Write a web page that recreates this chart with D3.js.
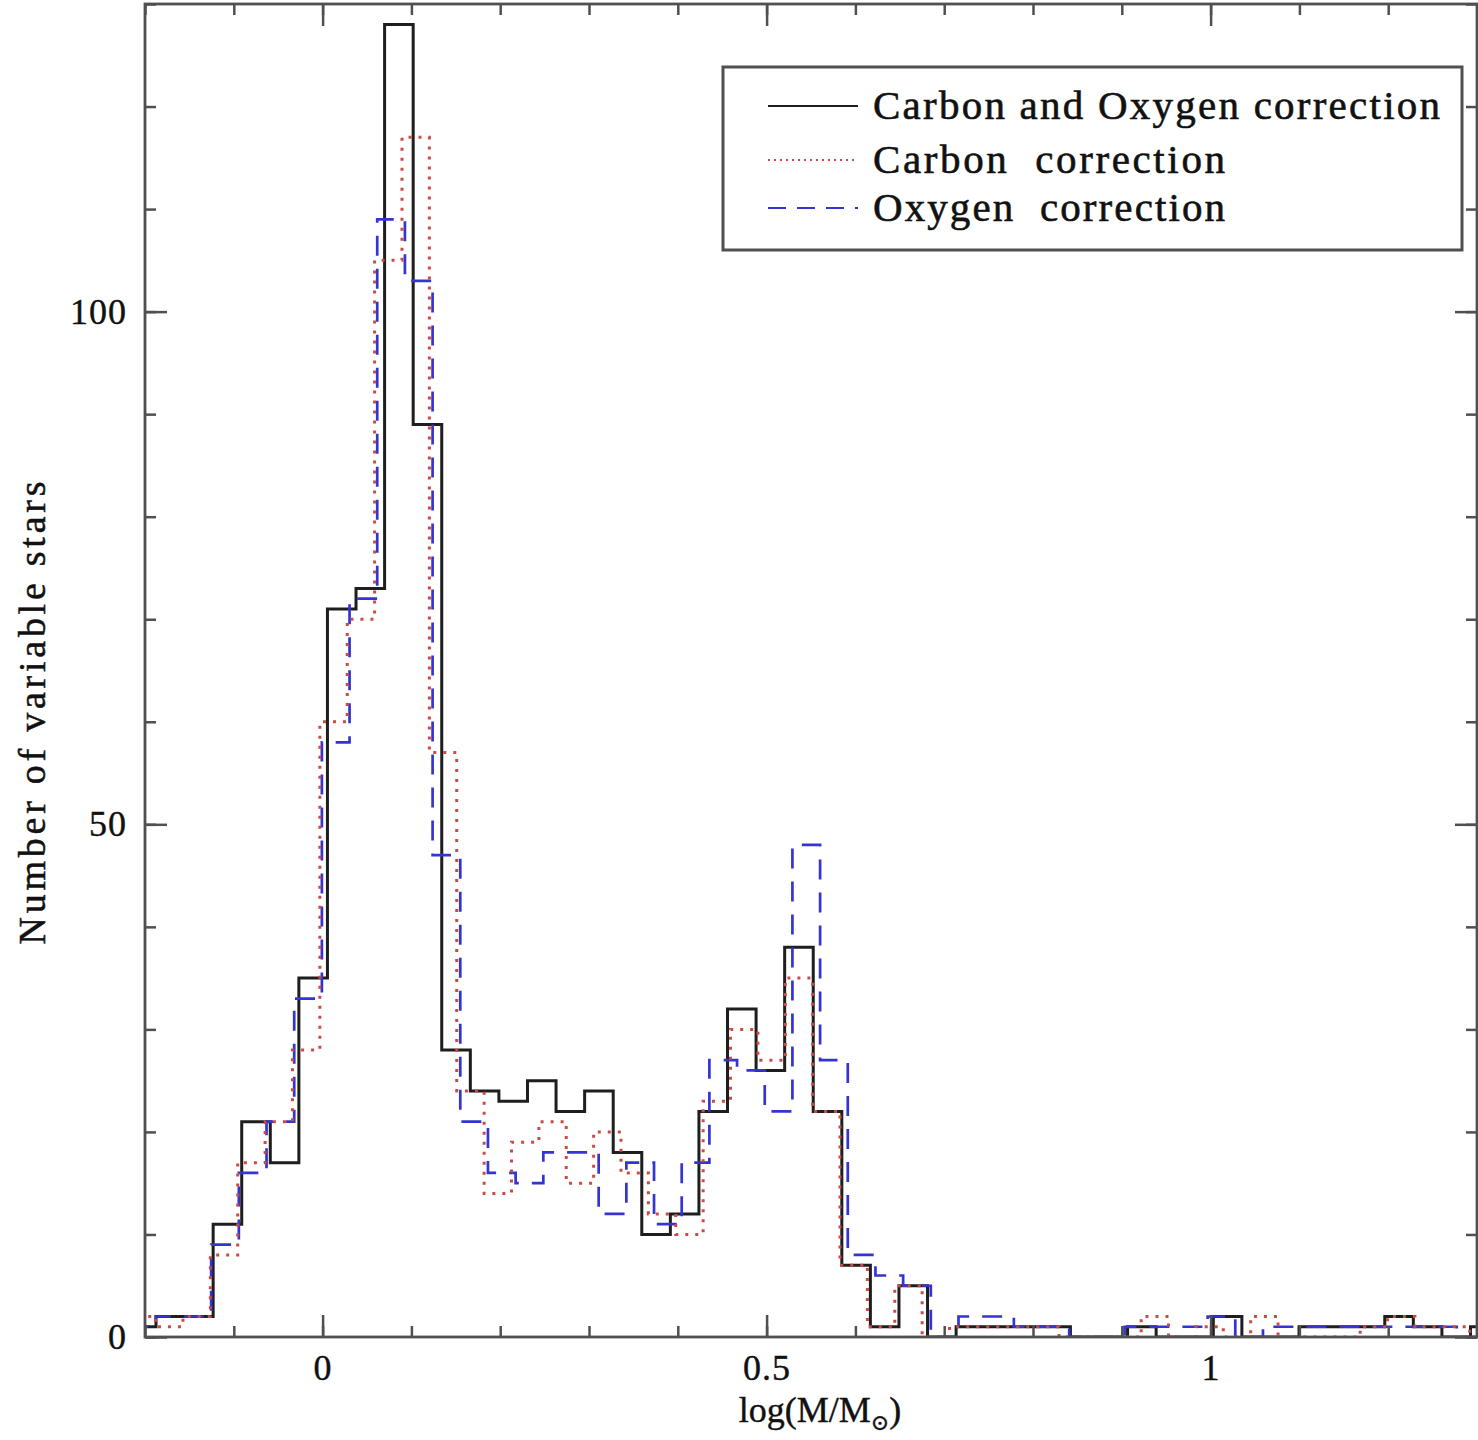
<!DOCTYPE html>
<html>
<head>
<meta charset="utf-8">
<script src="https://cdn.jsdelivr.net/npm/d3@7"></script>
<style>
  body { margin: 0; background: #fff; }
  text { font-family: "Liberation Serif", "DejaVu Serif", serif; fill: #111; }
</style>
</head>
<body>
<svg id="chart"></svg>
<script>
// histogram of log(M/Msun), counts per bin
// each correction was binned on its own grid (start + width in log M units)
var blackStart = -0.2198, blackWidth = 0.03218
var blackCounts = [1, 2, 2, 11, 21, 17, 35, 71, 73, 128, 89, 28, 24, 23, 25, 22, 24, 18, 10, 12,
  22, 32, 26, 38, 22, 7, 1, 5, 0, 1, 1, 1, 1, 0, 0, 1, 0, 0, 2, 0, 0, 1, 1, 1, 2, 1, 0, 1]

var redStart = -0.2189, redWidth = 0.03083
var redCounts = [2, 1, 2, 8, 17, 21, 28, 60, 70, 105, 117, 57, 24, 14, 19, 21, 15, 20, 16, 12,
  10, 23, 30, 27, 35, 22, 7, 1, 5, 0, 1, 1, 1, 1, 0, 0, 0, 2, 0, 1, 0, 2, 0, 0, 0, 1, 2, 1, 1, 0]

var blueStart = -0.2190, blueWidth = 0.03117
var blueCounts = [1, 2, 2, 9, 16, 21, 33, 58, 72, 109, 103, 47, 21, 16, 15, 18, 18, 12, 17, 11,
  17, 27, 26, 22, 48, 27, 8, 6, 5, 0, 2, 2, 1, 1, 0, 0, 1, 1, 1, 2, 0, 1, 1, 1, 1, 1, 1, 1, 0]

var legendLabels = ['Carbon and Oxygen correction', 'Carbon  correction', 'Oxygen  correction']
var xMajor = [0, 0.5, 1]
var xMinor = d3.range(-2, 14).map(function (d) { return d / 10 })
var yMajor = [0, 50, 100]
var yMinor = d3.range(0, 131, 10)

var width = 1478
var height = 1440
var plot = { left: 145, right: 1477, top: 4, bottom: 1337 }

var svg = d3.select('#chart').attr('width', width).attr('height', height)

var x = d3.scaleLinear().domain([-0.2, 1.3]).range([plot.left, plot.right])
var y = d3.scaleLinear().domain([0, 130]).range([plot.bottom, plot.top])

svg.append('clipPath').attr('id', 'clip')
  .append('rect')
  .attr('x', plot.left).attr('y', plot.top)
  .attr('width', plot.right - plot.left).attr('height', plot.bottom - plot.top)

// step outline of a histogram
function stepPath(start, w, counts) {
  var p = d3.path()
  counts.forEach(function (c, i) {
    var x0 = x(start + i * w), x1 = x(start + (i + 1) * w)
    if (i === 0) p.moveTo(x0, y(c))
    else p.lineTo(x0, y(c))
    p.lineTo(x1, y(c))
  })
  return p.toString()
}

var series = [
  { start: blackStart, w: blackWidth, counts: blackCounts, color: '#1e1e1e', dash: null, sw: 3 },
  { start: blueStart, w: blueWidth, counts: blueCounts, color: '#3434d2', dash: '20,13', sw: 2.7 },
  { start: redStart, w: redWidth, counts: redCounts, color: '#cc4a44', dash: '3,7', sw: 3 }
]

var hist = svg.append('g').attr('clip-path', 'url(#clip)')
hist.selectAll('path')
  .data(series)
  .enter().append('path')
    .attr('d', function (s) { return stepPath(s.start, s.w, s.counts) })
    .attr('fill', 'none')
    .attr('stroke', function (s) { return s.color })
    .attr('stroke-width', function (s) { return s.sw })
    .attr('stroke-dasharray', function (s) { return s.dash })

// ticks on all four sides, pointing inward
function styleAxis(g) {
  g.select('.domain').remove()
  g.selectAll('line').attr('stroke', '#505050').attr('stroke-width', 2.5)
  g.selectAll('text').attr('font-size', 36).attr('fill', '#111')
    .attr('stroke', '#111').attr('stroke-width', 0.4)
    .style('font-family', '"Liberation Serif", serif').attr('letter-spacing', 1)
}
var noLabel = function () { return '' }

svg.append('g').attr('transform', 'translate(0,' + plot.bottom + ')')
  .call(d3.axisBottom(x).tickValues(xMinor).tickSize(-11).tickFormat(noLabel)).call(styleAxis)
svg.append('g').attr('transform', 'translate(0,' + plot.bottom + ')')
  .call(d3.axisBottom(x).tickValues(xMajor).tickSize(-22).tickPadding(17).tickFormat(String)).call(styleAxis)
svg.append('g').attr('transform', 'translate(0,' + plot.top + ')')
  .call(d3.axisTop(x).tickValues(xMinor).tickSize(-11).tickFormat(noLabel)).call(styleAxis)
svg.append('g').attr('transform', 'translate(0,' + plot.top + ')')
  .call(d3.axisTop(x).tickValues(xMajor).tickSize(-22).tickFormat(noLabel)).call(styleAxis)

svg.append('g').attr('transform', 'translate(' + plot.left + ',0)')
  .call(d3.axisLeft(y).tickValues(yMinor).tickSize(-11).tickFormat(noLabel)).call(styleAxis)
svg.append('g').attr('transform', 'translate(' + plot.left + ',0)')
  .call(d3.axisLeft(y).tickValues(yMajor).tickSize(-22).tickPadding(18).tickFormat(String)).call(styleAxis)
svg.append('g').attr('transform', 'translate(' + plot.right + ',0)')
  .call(d3.axisRight(y).tickValues(yMinor).tickSize(-11).tickFormat(noLabel)).call(styleAxis)
svg.append('g').attr('transform', 'translate(' + plot.right + ',0)')
  .call(d3.axisRight(y).tickValues(yMajor).tickSize(-22).tickFormat(noLabel)).call(styleAxis)

// frame
svg.append('rect')
  .attr('x', plot.left).attr('y', plot.top)
  .attr('width', plot.right - plot.left).attr('height', plot.bottom - plot.top)
  .attr('fill', 'none').attr('stroke', '#505050').attr('stroke-width', 2.8)

// axis titles
svg.append('text')
  .attr('transform', 'translate(32,713) rotate(-90)')
  .attr('text-anchor', 'middle')
  .attr('dominant-baseline', 'central')
  .attr('font-size', 38)
  .attr('stroke', '#111').attr('stroke-width', 0.5)
  .attr('textLength', 463)
  .text('Number of variable stars')

var xt = svg.append('text')
  .attr('x', 820).attr('y', 1422)
  .attr('text-anchor', 'middle')
  .attr('font-size', 36)
  .attr('stroke', '#111').attr('stroke-width', 0.4)
xt.append('tspan').text('log(M/M')
xt.append('tspan').attr('font-size', 22).attr('dy', 8).text('\u2299')
xt.append('tspan').attr('dy', -8).text(')')

// legend
var legend = svg.append('g')
legend.append('rect')
  .attr('x', 723).attr('y', 67).attr('width', 739).attr('height', 183)
  .attr('fill', '#fff').attr('stroke', '#505050').attr('stroke-width', 3)

var legendRows = [
  { label: legendLabels[0], color: '#1e1e1e', dash: null, ly: 106, tl: 567 },
  { label: legendLabels[1], color: '#cc4a44', dash: '2,4', ly: 160, tl: 352 },
  { label: legendLabels[2], color: '#3434d2', dash: '18,11', ly: 208, tl: 352 }
]
var rows = legend.selectAll('g.row').data(legendRows).enter().append('g').attr('class', 'row')
rows.append('line')
  .attr('x1', 768).attr('x2', 858)
  .attr('y1', function (d) { return d.ly }).attr('y2', function (d) { return d.ly })
  .attr('stroke', function (d) { return d.color })
  .attr('stroke-width', 2)
  .attr('stroke-dasharray', function (d) { return d.dash })
rows.append('text')
  .attr('x', 873)
  .attr('y', function (d) { return d.ly + 13 })
  .attr('font-size', 41)
  .attr('stroke', '#111').attr('stroke-width', 0.6)
  .attr('textLength', function (d) { return d.tl })
  .attr('lengthAdjust', 'spacing')
  .style('white-space', 'pre')
  .text(function (d) { return d.label })
</script>
</body>
</html>
